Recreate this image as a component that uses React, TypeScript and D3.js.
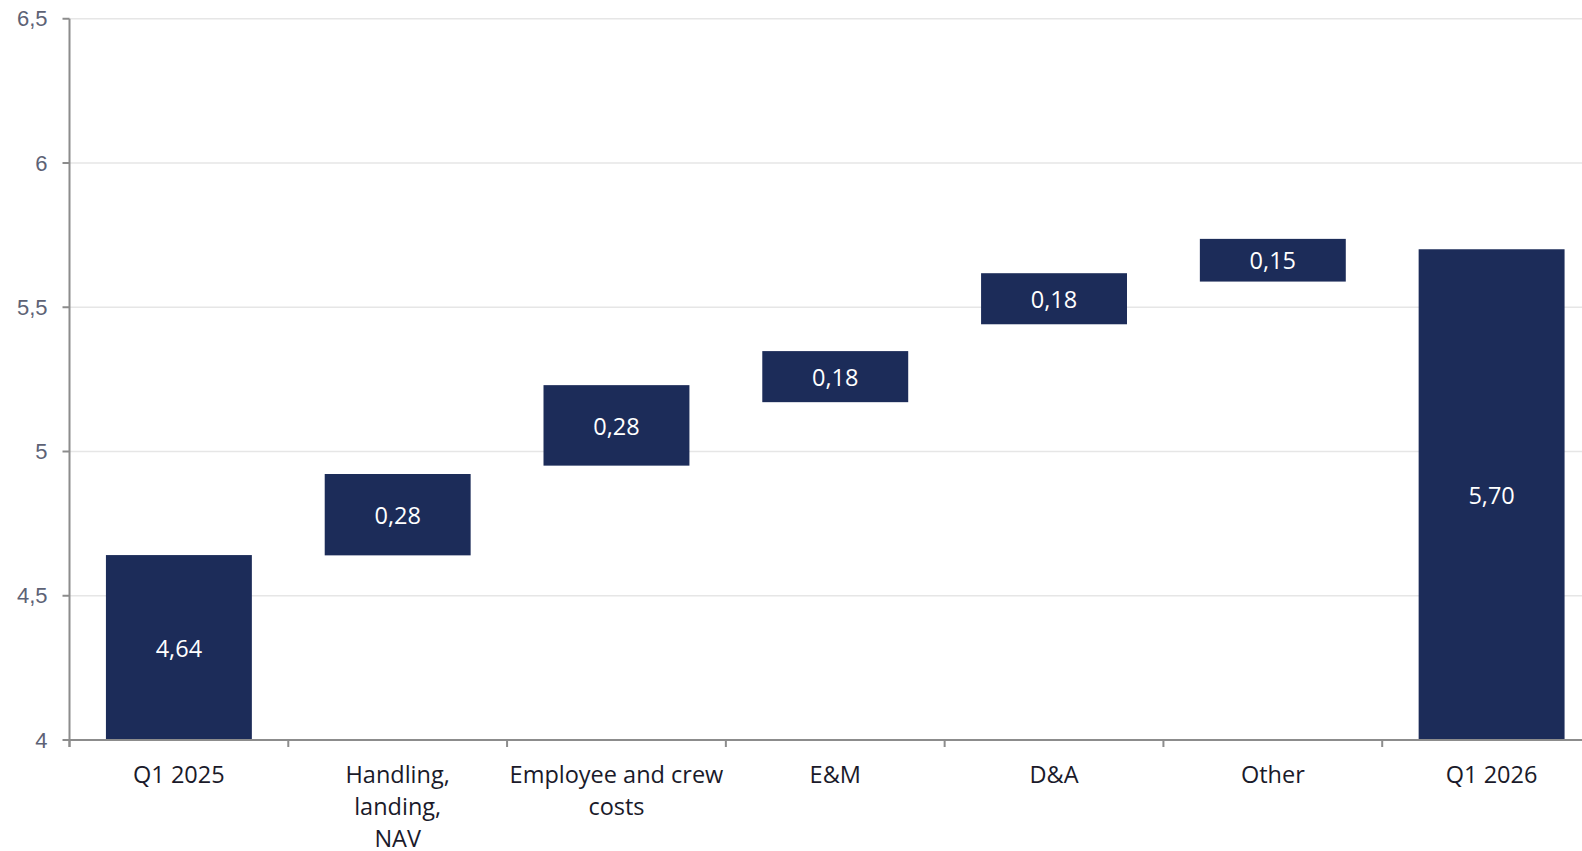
import React from "react";
import * as d3 from "d3";

const categories: string[][] = [
  ["Q1 2025"],
  ["Handling,", "landing,", "NAV"],
  ["Employee and crew", "costs"],
  ["E&M"],
  ["D&A"],
  ["Other"],
  ["Q1 2026"],
];
const barStart: number[] = [4.0, 4.64, 4.951, 5.171, 5.441, 5.589, 4.0];
const barEnd: number[] = [4.641, 4.922, 5.23, 5.348, 5.618, 5.737, 5.701];
const barLabels: string[] = ["4,64", "0,28", "0,28", "0,18", "0,18", "0,15", "5,70"];
const yTicks: number[] = [4, 4.5, 5, 5.5, 6, 6.5];
const yTickLabels: string[] = ["4", "4,5", "5", "5,5", "6", "6,5"];

export default function App() {
  const W = 1582;
  const H = 851;
  const left = 69.5;
  const right = 1601;
  const y = d3.scaleLinear().domain([4, 6.5]).range([740, 18.75]);
  const x = d3
    .scaleBand<number>()
    .domain(categories.map((_, i) => i))
    .range([left, right])
    .padding(0);
  const bw = x.bandwidth();
  const barW = bw * 0.667;
  const barColor = "#1c2c59";
  const axisColor = "#8c8c8c";
  const font = "'Open Sans', Lato, sans-serif";

  return (
    <svg
      width={W}
      height={H}
      style={{ position: "absolute", left: 0, top: 0, background: "#fff" }}
    >
      {yTicks.map((t) =>
        t === 4 ? null : (
          <line key={"g" + t} x1={left} x2={W} y1={y(t)} y2={y(t)} stroke="#e6e6e6" strokeWidth={1.3} />
        )
      )}
      {categories.map((_, i) => {
        const cx = (x(i) as number) + bw / 2;
        const y0 = y(barEnd[i]);
        const y1 = y(barStart[i]);
        return (
          <g key={"b" + i}>
            <rect x={cx - barW / 2} y={y0} width={barW} height={y1 - y0} fill={barColor} />
            <text
              x={cx}
              y={(y0 + y1) / 2 + 1}
              dy="0.35em"
              textAnchor="middle"
              fill="#ffffff"
              fontFamily={font}
              fontSize={23.5}
            >
              {barLabels[i]}
            </text>
          </g>
        );
      })}
      <line x1={left} x2={left} y1={y(6.5)} y2={y(4) + 7} stroke={axisColor} strokeWidth={2} />
      {yTicks.map((t, i) => (
        <g key={"yt" + t}>
          <line x1={left - 7} x2={left} y1={y(t)} y2={y(t)} stroke={axisColor} strokeWidth={2} />
          <text
            x={47.5}
            y={y(t)}
            dy="0.35em"
            textAnchor="end"
            fill="#5d6275"
            fontFamily="'Liberation Sans', Arial, sans-serif"
            fontSize={22}
          >
            {yTickLabels[i]}
          </text>
        </g>
      ))}
      <line x1={left} x2={W} y1={y(4)} y2={y(4)} stroke={axisColor} strokeWidth={2} />
      {categories.map((_, i) => (
        <line
          key={"xt" + i}
          x1={x(i) as number}
          x2={x(i) as number}
          y1={y(4)}
          y2={y(4) + 7}
          stroke={axisColor}
          strokeWidth={2}
        />
      ))}
      {categories.map((lines, i) => {
        const cx = (x(i) as number) + bw / 2;
        return (
          <text
            key={"xl" + i}
            x={cx}
            textAnchor="middle"
            fill="#1a1a2a"
            fontFamily={font}
            fontSize={23.5}
          >
            {lines.map((ln, j) => (
              <tspan key={j} x={cx} y={774.5 + j * 32} dy="0.35em">
                {ln}
              </tspan>
            ))}
          </text>
        );
      })}
    </svg>
  );
}
